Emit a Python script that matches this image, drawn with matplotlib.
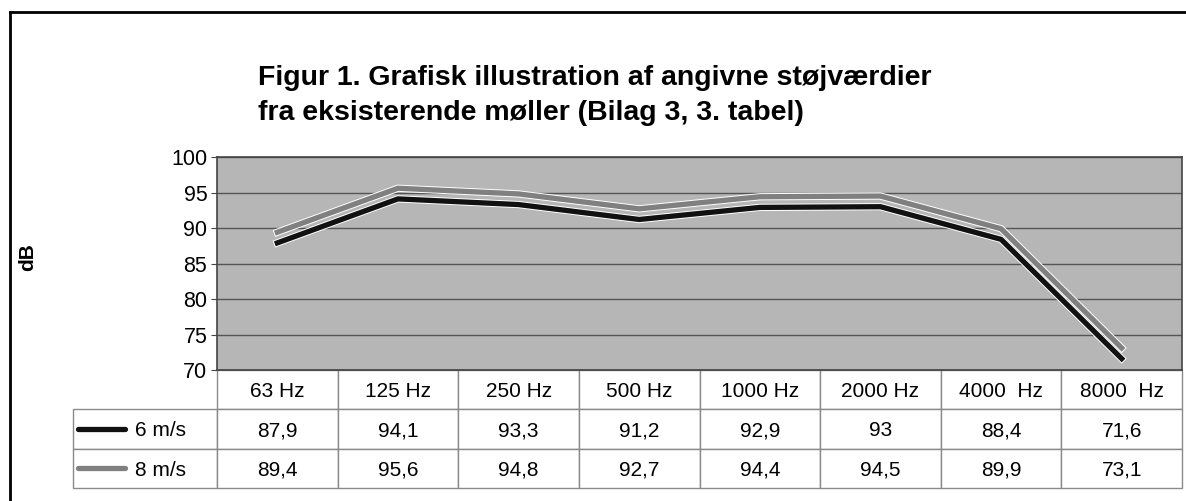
import matplotlib
matplotlib.use("Agg")
import matplotlib.pyplot as plt
import matplotlib.patheffects as pe
import matplotlib.transforms as mtransforms
from matplotlib.lines import Line2D

# data
freqs = ["63 Hz", "125 Hz", "250 Hz", "500 Hz", "1000 Hz", "2000 Hz", "4000  Hz", "8000  Hz"]
series = ["6 m/s", "8 m/s"]
v6 = [87.9, 94.1, 93.3, 91.2, 92.9, 93, 88.4, 71.6]
v8 = [89.4, 95.6, 94.8, 92.7, 94.4, 94.5, 89.9, 73.1]
y_ticks = [70, 75, 80, 85, 90, 95, 100]
title1 = "Figur 1. Grafisk illustration af angivne støjværdier"
title2 = "fra eksisterende møller (Bilag 3, 3. tabel)"

plt.rcParams['font.family'] = ['Liberation Sans', 'DejaVu Sans']

W, H = 1186, 501
fig = plt.figure(figsize=(W / 100, H / 100), dpi=100)


def fx(px):
    return px / W


def fy(py):
    return 1 - py / H


# plot area in pixels
L, R, T, B = 217, 1182, 157, 370
ax = fig.add_axes([fx(L), fy(B), (R - L) / W, (B - T) / H])
ax.set_facecolor("#b6b6b6")
ax.set_xlim(-0.5, len(freqs) - 0.5)
ax.set_ylim(70, 100)
ax.set_yticks(y_ticks)
ax.set_xticks([])
ax.yaxis.grid(True, color="#555555", lw=1)
ax.set_axisbelow(True)
for s in ax.spines.values():
    s.set_color("#444444")
    s.set_linewidth(1.2)
ax.tick_params(axis='y', labelsize=15.5, length=4, color="#444444", pad=3)

colors = ["#111111", "#808080"]
x = list(range(len(freqs)))
for vals, c in [(v8, colors[1]), (v6, colors[0])]:
    ax.plot(x, vals, color=c, lw=3.8, solid_joinstyle='round',
            path_effects=[pe.Stroke(linewidth=5.2, foreground="white"), pe.Normal()])

# data table below the plot (grid from ax.table, text placed on baselines)
def fmt(v):
    return f"{v:g}".replace(".", ",")

rows = [[fmt(v) for v in v6], [fmt(v) for v in v8]]
lab_w = 144
col_w = (R - L) / len(freqs)
tot_w = lab_w + col_w * len(freqs)
widths = [lab_w / tot_w] + [col_w / tot_w] * len(freqs)
tab_bottom = 488
tab = ax.table(cellText=[[""] * (len(freqs) + 1)] * 2,
               colLabels=[""] * (len(freqs) + 1), colWidths=widths,
               bbox=[-lab_w / (R - L), -(tab_bottom - B) / (B - T),
                     tot_w / (R - L), (tab_bottom - B) / (B - T)])
for (r, c), cell in tab.get_celld().items():
    cell.set_edgecolor("#8a8a8a")
    cell.set_linewidth(1)
    cell.set_facecolor("white")
tab[0, 0].set_edgecolor("none")

trans = mtransforms.blended_transform_factory(ax.transData, ax.transAxes)
row_h = (tab_bottom - B) / 3
fs = 15
base_off = 7.3  # px from row centre to baseline


def row_y(k):
    return -(B + row_h * (k + 0.5) + base_off - B) / (B - T)


for j, lab in enumerate(freqs):
    ax.text(j, row_y(0), lab, transform=trans, ha='center', va='baseline', fontsize=fs)
for i, vals in enumerate(rows):
    for j, s in enumerate(vals):
        ax.text(j, row_y(i + 1), s, transform=trans, ha='center', va='baseline', fontsize=fs)

# legend keys in the label column
for i, (name, c) in enumerate(zip(series, colors)):
    ya = -(row_h * (i + 1.5)) / (B - T)
    ax.plot([(78 - L) / (R - L), (125 - L) / (R - L)], [ya, ya], color=c, lw=3.8,
            transform=ax.transAxes, clip_on=False, solid_capstyle='round')
    ax.text((135 - L) / (R - L), row_y(i + 1), name, transform=ax.transAxes,
            ha='left', va='baseline', fontsize=fs)

fig.text(fx(28), fy(257), "dB", rotation=90, ha='center', va='center',
         fontsize=15, fontweight='bold')

fig.text(fx(258), fy(78), title1, ha='left', va='center', fontsize=20.5, fontweight='bold')
fig.text(fx(258), fy(113), title2, ha='left', va='center', fontsize=20.5, fontweight='bold')

# outer frame
fig.add_artist(Line2D([fx(10), fx(10)], [fy(12), 0], color="black", lw=2))
fig.add_artist(Line2D([fx(10), 1], [fy(12), fy(12)], color="black", lw=2))

fig.savefig("out.png", dpi=100)
